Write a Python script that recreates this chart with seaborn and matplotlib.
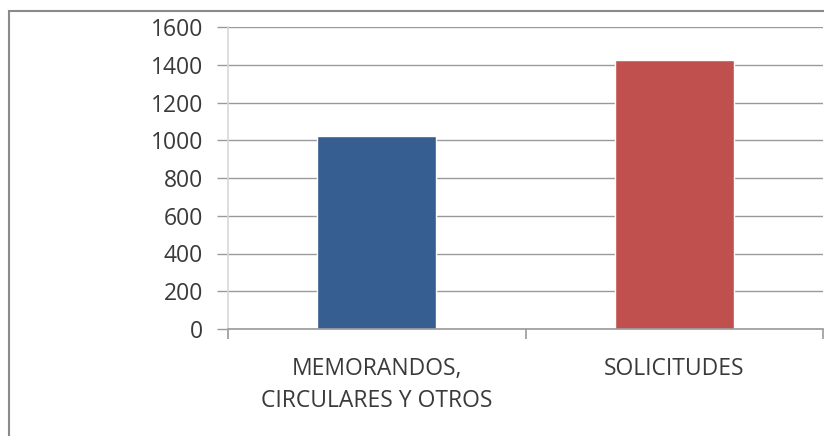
import matplotlib
matplotlib.use("Agg")
import matplotlib.pyplot as plt
from matplotlib.patches import Rectangle
import seaborn as sns

# data
categories = ["MEMORANDOS,\nCIRCULARES Y OTROS", "SOLICITUDES"]
values = [1020, 1425]
bar_colors = ["#375E90", "#C0504D"]
y_ticks = [0, 200, 400, 600, 800, 1000, 1200, 1400, 1600]

sns.set_theme(style="white")
plt.rcParams["font.family"] = ["Open Sans", "DejaVu Sans"]

W, H = 824, 436
fig = plt.figure(figsize=(W / 100, H / 100), dpi=100)
ax = fig.add_axes([228 / W, 1 - 329 / H, 595 / W, 302 / H])

sns.barplot(x=categories, y=values, hue=categories, palette=bar_colors,
            width=0.4, legend=False, saturation=1, ax=ax)

grid_c = "#9a9a9a"
text_c = "#3a3a3a"

ax.set_xlim(-0.5, 1.5)
ax.set_ylim(0, 1600)
ax.set_yticks(y_ticks)
ax.set_yticklabels([str(v) for v in y_ticks])
ax.set_axisbelow(True)
ax.yaxis.grid(True, color=grid_c, linewidth=1)
ax.xaxis.grid(False)

for side in ["top", "right"]:
    ax.spines[side].set_visible(False)
ax.spines["left"].set_color("#d8d8d8")
ax.spines["left"].set_linewidth(1.2)
ax.spines["bottom"].set_color(grid_c)
ax.spines["bottom"].set_linewidth(1.2)

ax.tick_params(axis="y", length=8, width=1, color=grid_c, pad=10,
               labelsize=16.5, labelcolor=text_c, left=True)
ax.tick_params(axis="x", which="major", length=0, pad=20,
               labelsize=16.5, labelcolor=text_c)
ax.set_xticks([-0.5, 0.5, 1.5], minor=True)
ax.tick_params(axis="x", which="minor", length=7, width=1.2, color=grid_c,
               bottom=True)
ax.xaxis.get_minor_ticks()[0].tick1line.set_color("#d8d8d8")
for lbl in ax.get_xticklabels():
    lbl.set_linespacing(1.45)
ax.set_xlabel("")
ax.set_ylabel("")

# chart-area frame, cropped on right and bottom like the reference
fig.patches.append(Rectangle((9 / W, -0.1), 1.2, 1 - 11 / H + 0.1,
                             transform=fig.transFigure, fill=False,
                             edgecolor="#8a8a8a", linewidth=1.5))

fig.savefig("out.png", dpi=100)
